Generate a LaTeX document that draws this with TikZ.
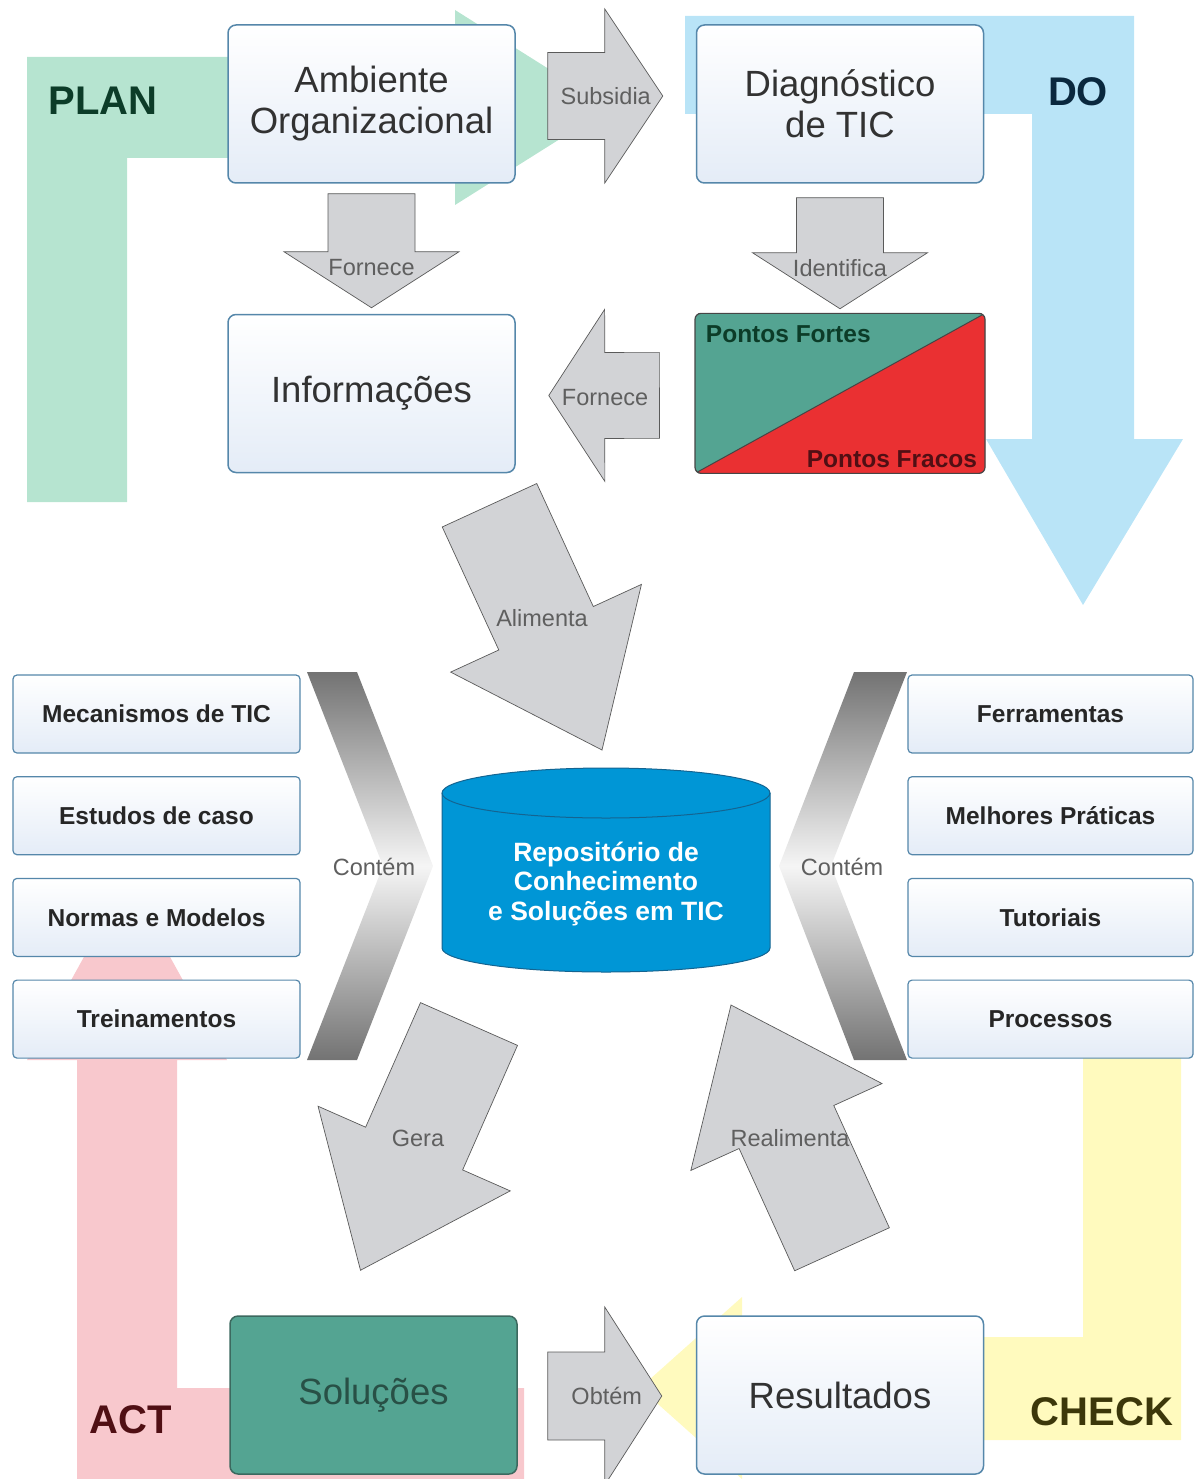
\documentclass[tikz,border=0pt]{standalone}
\usepackage{fontspec}
\setmainfont{Liberation Sans}
\usetikzlibrary{calc, positioning, shapes}

\definecolor{plangreen}{RGB}{182,228,208}
\definecolor{doblue}{RGB}{185,228,247}
\definecolor{checkyellow}{RGB}{255,250,190}
\definecolor{actpink}{RGB}{248,200,205}
\definecolor{plantext}{RGB}{12,60,40}
\definecolor{dotext}{RGB}{10,40,62}
\definecolor{checktext}{RGB}{60,55,10}
\definecolor{acttext}{RGB}{80,15,20}
\definecolor{boxline}{RGB}{85,135,170}
\definecolor{boxlow}{RGB}{228,236,247}
\definecolor{boxtext}{RGB}{50,50,50}
\definecolor{listtext}{RGB}{38,38,38}
\definecolor{arrowfill}{RGB}{210,211,214}
\definecolor{arrowline}{RGB}{90,90,90}
\definecolor{arrowtext}{RGB}{95,95,95}
\definecolor{ptteal}{RGB}{84,164,146}
\definecolor{ptred}{RGB}{234,48,50}
\definecolor{ptline}{RGB}{70,70,70}
\definecolor{soltext}{RGB}{40,80,70}
\definecolor{solline}{RGB}{60,105,95}
\definecolor{repoblue}{RGB}{0,150,214}
\definecolor{repoline}{RGB}{20,100,145}
\definecolor{chevdark}{RGB}{115,115,115}
\definecolor{chevlight}{RGB}{245,245,245}

\begin{document}
\begin{tikzpicture}[
    x=1pt, y=-1pt,
    basebox/.style={rectangle, rounded corners=8pt, line width=1.5pt,
        minimum width=287pt, minimum height=158pt, align=center,
        font=\fontsize{36.5}{41}\selectfont},
    mainbox/.style={basebox, draw=boxline, top color=white, bottom color=boxlow,
        text=boxtext},
    solbox/.style={basebox, draw=solline, fill=ptteal, text=soltext},
    smallbox/.style={rectangle, draw=boxline, line width=1.2pt, rounded corners=4pt,
        top color=white, bottom color=boxlow, minimum width=287pt, minimum height=78pt,
        text=listtext, font=\bfseries\fontsize{24.5}{29}\selectfont},
    pontobox/.style={rectangle, draw=ptline, line width=1.2pt, rounded corners=6pt,
        fill=ptteal, minimum width=290pt, minimum height=160pt,
        path picture={
            \fill[ptred] (path picture bounding box.south west)
                -- (path picture bounding box.north east)
                -- (path picture bounding box.south east) -- cycle;
            \draw[ptline, line width=1pt] (path picture bounding box.south west)
                -- (path picture bounding box.north east);}},
    blk/.style={fill=arrowfill, draw=arrowline, line width=0.7pt},
    blocktext/.style={text=arrowtext, font=\fontsize{23.5}{27}\selectfont},
    phase/.style={font=\bfseries\fontsize{40}{44}\selectfont},
    blockarrow/.style n args={3}{to path={
        let \p1=(\tikztostart), \p2=(\tikztotarget),
            \n1={atan2(\y2-\y1,\x2-\x1)} in
        ($(\p1)+(\n1+90:#1)$) -- ($(\p2)+(\n1+180:#3)+(\n1+90:#1)$)
        -- ($(\p2)+(\n1+180:#3)+(\n1+90:#2)$) -- (\p2)
        -- ($(\p2)+(\n1+180:#3)+(\n1-90:#2)$) -- ($(\p2)+(\n1+180:#3)+(\n1-90:#1)$)
        -- ($(\p1)+(\n1-90:#1)$) -- cycle}}
]
\useasboundingbox (0,0) rectangle (1194,1479);

% PDCA background
\fill[plangreen] (27,502) -- (27,57) -- (455,57) -- (455,10) -- (610,107.5)
    -- (455,205) -- (455,158) -- (127,158) -- (127,502) -- cycle;
\fill[doblue] (685,16) -- (1134,16) -- (1134,439) -- (1183,439) -- (1083,605)
    -- (986,439) -- (1032,439) -- (1032,114) -- (685,114) -- cycle;
\fill[checkyellow] (1083,1010) -- (1181,1010) -- (1181,1440) -- (742,1440)
    -- (742,1479) -- (640,1388) -- (742,1297) -- (742,1337) -- (1083,1337) -- cycle;
\fill[actpink] (77,1479) -- (77,1060) -- (27,1060) -- (127,879) -- (227,1060)
    -- (177,1060) -- (177,1388) -- (524,1388) -- (524,1479) -- cycle;

\node[phase, text=plantext] (plan) at (103,101) {PLAN};
\node[phase, text=dotext] (do) at (1078,92) {DO};
\node[phase, text=checktext] (check) at (1102,1412) {CHECK};
\node[phase, text=acttext] (act) at (131,1420) {ACT};

% chevrons
\shade[top color=chevdark, bottom color=chevdark, middle color=chevlight]
    (307,672) -- (357,672) -- (433,866) -- (357,1060) -- (307,1060) -- (383,866) -- cycle;
\shade[top color=chevdark, bottom color=chevdark, middle color=chevlight]
    (907,672) -- (854,672) -- (779,866) -- (854,1060) -- (907,1060) -- (831,866) -- cycle;

% main boxes
\node[mainbox] (ambiente) at (371.5,104) {Ambiente\\Organizacional};
\node[mainbox, right=180pt of ambiente] (diag) {Diagnóstico\\de TIC};
\node[mainbox, below=130pt of ambiente] (info) {Informações};
\node[pontobox, below=129pt of diag] (pontos) {};
\node[anchor=base west, text=plantext, font=\bfseries\fontsize{24.5}{28}\selectfont]
    (fortes) at ($(pontos.north west)+(8,30)$) {Pontos Fortes};
\node[anchor=base east, text=acttext, font=\bfseries\fontsize{24.5}{28}\selectfont]
    (fracos) at ($(pontos.south east)+(-5,-6)$) {Pontos Fracos};
\node[solbox] (solucoes) at (373.5,1395) {Soluções};
\node[mainbox, right=178pt of solucoes] (result) {Resultados};

% left list
\node[smallbox] (mecan) at (156.5,714) {Mecanismos de TIC};
\node[smallbox, below=22.5pt of mecan] (estudos) {Estudos de caso};
\node[smallbox, below=22.5pt of estudos] (normas) {Normas e Modelos};
\node[smallbox, below=22.5pt of normas] (trein) {Treinamentos};

% right list
\node[smallbox, minimum width=285pt] (ferram) at (1050.5,714) {Ferramentas};
\node[smallbox, minimum width=285pt, below=22.5pt of ferram] (melhores) {Melhores Práticas};
\node[smallbox, minimum width=285pt, below=22.5pt of melhores] (tutor) {Tutoriais};
\node[smallbox, minimum width=285pt, below=22.5pt of tutor] (proc) {Processos};

% repository
\coordinate (repotop) at (606,768);
\coordinate (repobot) at (606,972);
\draw[repoline, fill=repoblue, line width=1pt] (442,793) -- (442,948)
    arc[start angle=180, end angle=360, x radius=164pt, y radius=24pt]
    -- (770,793) arc[start angle=0, end angle=180, x radius=164pt, y radius=25pt] -- cycle;
\draw[repoline, line width=1pt] (442,793)
    arc[start angle=180, end angle=360, x radius=164pt, y radius=25pt];
\node[align=center, text=white, font=\bfseries\fontsize{26.5}{29.5}\selectfont]
    (repo) at (606,884) {Repositório de\\Conhecimento\\e Soluções em TIC};

% block arrows
\draw[blk, blockarrow={43.5pt}{87pt}{58pt}]
    ($(ambiente.east)+(32,-8)$) to ($(diag.west)+(-33,-8)$);
\node[blocktext] (subsidia) at ($(ambiente.east)!0.5!(diag.west)+(0,-8)$) {Subsidia};

\draw[blk, blockarrow={43.5pt}{87.5pt}{56pt}]
    ($(ambiente.south)+(0,10)$) to ($(info.north)+(0,-6)$);
\node[blocktext] (fornece1) at ($(ambiente.south)+(0,84)$) {Fornece};

\draw[blk, blockarrow={43.5pt}{87.5pt}{56pt}]
    ($(diag.south)+(0,14)$) to ($(pontos.north)+(0,-4)$);
\node[blocktext] (identif) at ($(diag.south)+(0,84)$) {Identifica};

\draw[blk, blockarrow={43pt}{86pt}{56pt}]
    ($(pontos.west)+(-35,2)$) to ($(info.east)+(33,2)$);
\node[blocktext] (fornece2) at ($(info.east)!0.5!(pontos.west)+(0,4)$) {Fornece};

\draw[blk, blockarrow={52pt}{105pt}{134pt}]
    ($(info.south)+(118,32)$) to ($(repotop)+(-4,-18)$);
\node[blocktext] (alimenta) at (542,618) {Alimenta};

\draw[blk, blockarrow={53pt}{105pt}{133pt}]
    ($(repobot)+(-137,52)$) to ($(solucoes.north)+(-13,-45)$);
\node[blocktext] (gera) at (418,1138) {Gera};

\draw[blk, blockarrow={52pt}{105pt}{134pt}]
    ($(result.north)+(2,-66)$) to ($(repobot)+(125,33)$);
\node[blocktext] (realim) at (790,1138) {Realimenta};

\draw[blk, blockarrow={44pt}{89pt}{57pt}]
    ($(solucoes.east)+(30,1)$) to ($(result.west)+(-34,1)$);
\node[blocktext] (obtem) at ($(solucoes.east)!0.5!(result.west)+(0,1)$) {Obtém};

\node[blocktext] (contem1) at (374,867) {Contém};
\node[blocktext] (contem2) at (842,867) {Contém};

\end{tikzpicture}
\end{document}
